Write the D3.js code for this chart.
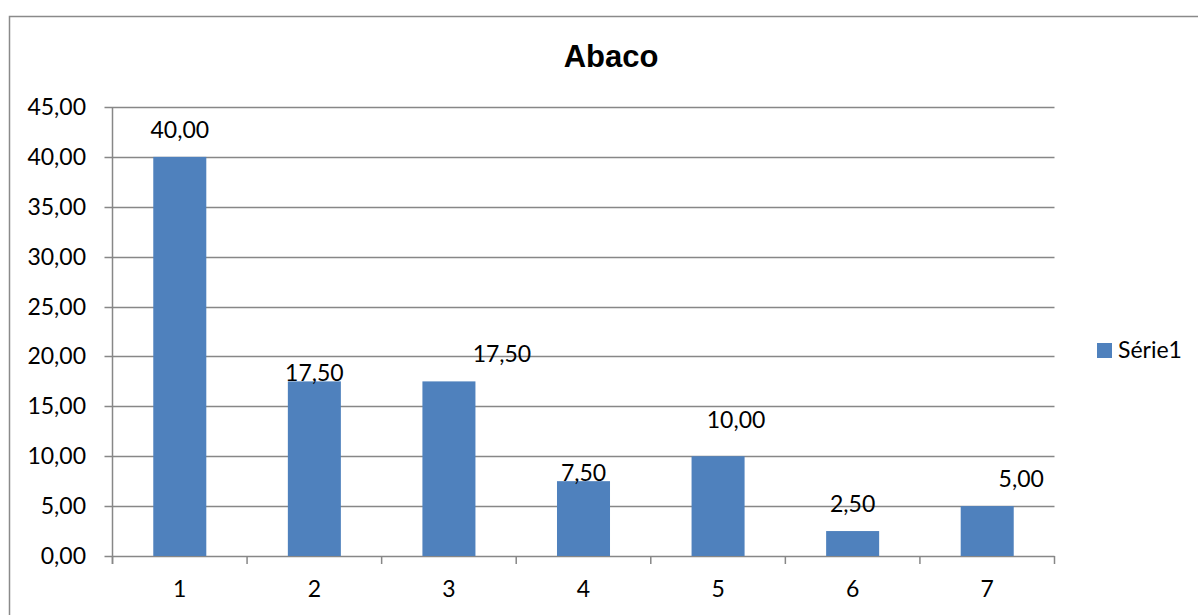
<!DOCTYPE html>
<html><head><meta charset="utf-8">
<script src="https://cdn.jsdelivr.net/npm/d3@7"></script>
<style>body{margin:0;background:#fff}svg{display:block}</style>
</head><body>
<svg id="c" width="1198" height="615"></svg>
<script>
const categories = ["1","2","3","4","5","6","7"];
const values = [40, 17.5, 17.5, 7.5, 10, 2.5, 5];
const yTicks = [0,5,10,15,20,25,30,35,40,45];
const seriesName = "Série1";
const title = "Abaco";
// manual label offsets (px) as in the original chart: [dx, dy]
const labelOffsets = [[0,-19],[0,0],[53,-19],[0,0],[18,-28],[0,-19],[34,-19]];

const fmt = v => v.toFixed(2).replace(".", ",");
const svg = d3.select("#c");
const L = 112.5, R = 1054.5, T = 107, B = 556;
const x = d3.scaleBand().domain(categories).range([L, R]).padding(0);
const y = d3.scaleLinear().domain([0,45]).range([B, T]);
const barW = x.bandwidth() * 0.394;
const grid = "#878787";
const font = "Lato, 'Open Sans', sans-serif";

svg.append("rect").attr("x",9.5).attr("y",16.5).attr("width",1300).attr("height",700)
  .attr("fill","none").attr("stroke","#8a8a8a").attr("stroke-width",1.5);

svg.append("text").attr("x",611).attr("y",67).attr("text-anchor","middle")
  .attr("font-family","'Liberation Sans', Arial, sans-serif").attr("font-weight","bold")
  .attr("font-size",31).text(title);

// gridlines
svg.append("g").selectAll("line").data(yTicks).join("line")
  .attr("x1",L-8).attr("x2",R).attr("y1",d=>Math.round(y(d))+0.5).attr("y2",d=>Math.round(y(d))+0.5)
  .attr("stroke",grid).attr("stroke-width",1.5);
// y axis line
svg.append("line").attr("x1",L).attr("x2",L).attr("y1",T).attr("y2",B+8)
  .attr("stroke",grid).attr("stroke-width",1.5);
// x ticks
const xt = categories.map(c=>x(c)).concat([R]);
svg.append("g").selectAll("line").data(xt).join("line")
  .attr("x1",d=>d).attr("x2",d=>d).attr("y1",B).attr("y2",B+8)
  .attr("stroke",grid).attr("stroke-width",1.5);

// y labels
svg.append("g").selectAll("text").data(yTicks).join("text")
  .attr("x",86).attr("y",d=>y(d)+8).attr("text-anchor","end")
  .attr("font-family",font).attr("font-size",23).attr("fill","#000").text(fmt);
// x labels
svg.append("g").selectAll("text").data(categories).join("text")
  .attr("x",d=>x(d)+x.bandwidth()/2).attr("y",597).attr("text-anchor","middle")
  .attr("font-family",font).attr("font-size",23).attr("fill","#000").text(d=>d);

// bars
svg.append("g").selectAll("rect").data(values).join("rect")
  .attr("x",(d,i)=>x(categories[i])+x.bandwidth()/2-barW/2)
  .attr("width",barW)
  .attr("y",d=>y(d)).attr("height",d=>B-y(d))
  .attr("fill","#4F81BD");

// value labels
svg.append("g").selectAll("text").data(values).join("text")
  .attr("x",(d,i)=>x(categories[i])+x.bandwidth()/2+labelOffsets[i][0])
  .attr("y",(d,i)=>y(d)+labelOffsets[i][1])
  .attr("text-anchor","middle").attr("font-family",font).attr("font-size",23)
  .attr("fill","#000").text(fmt);

// legend
svg.append("rect").attr("x",1097).attr("y",343).attr("width",15).attr("height",15).attr("fill","#4F81BD");
svg.append("text").attr("x",1118).attr("y",358).attr("font-family",font).attr("font-size",23)
  .attr("fill","#000").text(seriesName);
</script>
</body></html>
